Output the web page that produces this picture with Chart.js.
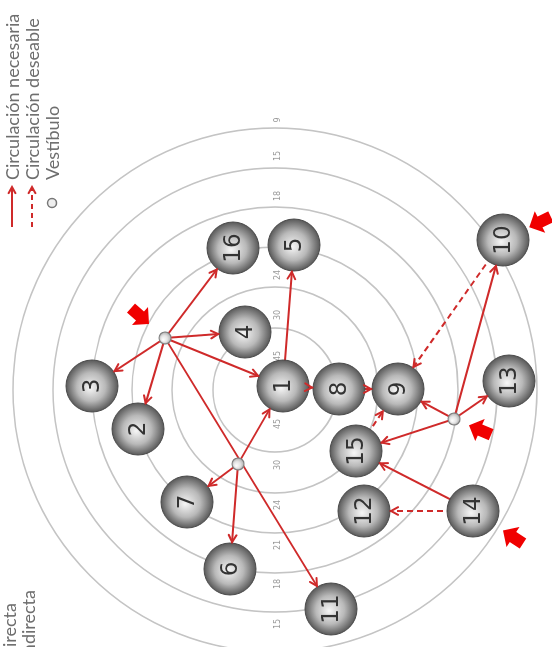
<!DOCTYPE html>
<html><head><meta charset="utf-8">
<script src="https://cdn.jsdelivr.net/npm/chart.js@4/dist/chart.umd.min.js"></script>
<style>
html,body{margin:0;padding:0;background:#fff;overflow:hidden;width:552px;height:647px}
#wrap{position:absolute;left:0;top:0;width:647px;height:552px;transform-origin:0 0;transform:translateY(647px) rotate(-90deg)}
</style></head><body>
<div id="wrap"><canvas id="c" width="647" height="552"></canvas></div>
<script>
// ---- data (ring centre = 0,0) ----
const nodeNames = ['1','2','3','4','5','6','7','8','9','10','11','12','13','14','15','16'];
const nodeX     = [  4, -39,   4,  58, 145,-179,-112,   1,   1, 150,-219,-121,   9,-121, -61, 142];
const nodeY     = [ -8, 137, 183,  30, -19,  45,  88, -64,-123,-228, -56, -89,-234,-198, -81,  42];
const vestibuleNames = ['V1','V2','V3'];
const vestibuleX = [ 52, -74, -29];
const vestibuleY = [110,  37,-179];
const ringRadii  = [62, 103, 143, 183, 222, 262];
const zoneLabels = ['45','30','24','21','18','15','9'];
const solidFrom = ['V1','V1','V1','V1','V1','V1','V2','V2','V2','1','1','8','V3','V3','V3','V3','14'];
const solidTo   = ['16','4', '3', '2', '1', '11','1', '7', '6', '5','8','9','9', '13','15','10','15'];
const dashedFrom = ['10','15','14'];
const dashedTo   = ['9', '9', '12'];
const entranceTarget = ['V1','V3','14','10'];
const entranceX = [ 74, -40,-147, 168];
const entranceY = [135,-205,-238,-265];
const legendLabels = ['Circulación necesaria','Circulación deseable','Vestíbulo'];
const relationLabels = ['Relación directa','Relación indirecta'];

const RED = '#cf2a2a';
const NODE_R = 26, VEST_R = 6;

function pos(name){
  let i = nodeNames.indexOf(name);
  if (i >= 0) return {x: nodeX[i], y: nodeY[i], r: NODE_R};
  i = vestibuleNames.indexOf(name);
  return {x: vestibuleX[i], y: vestibuleY[i], r: VEST_R};
}

const edges = [];
solidFrom.forEach((f,i)=>edges.push({from:f,to:solidTo[i],dashed:false}));
dashedFrom.forEach((f,i)=>edges.push({from:f,to:dashedTo[i],dashed:true}));

const datasets = edges.map(e=>({
  type:'scatter', showLine:true, data:[pos(e.from),pos(e.to)].map(p=>({x:p.x,y:p.y})),
  borderColor:RED, borderWidth:2, borderDash:e.dashed?[6,4]:[], pointRadius:0, order:5
}));

function sphere(ctx, light, mid, dark){
  if (ctx.type !== 'data' || !ctx.raw) return mid;
  const c = ctx.chart; const d = ctx.raw;
  const px = c.scales.x.getPixelForValue(d.x), py = c.scales.y.getPixelForValue(d.y);
  if (!isFinite(px) || !isFinite(py)) return mid;
  const g = c.ctx.createRadialGradient(px-2, py-2, 0, px, py, d.r);
  g.addColorStop(0, light); g.addColorStop(0.55, mid); g.addColorStop(1, dark);
  return g;
}

datasets.push({
  type:'bubble', label:'nodes',
  data: nodeNames.map((n,i)=>({x:nodeX[i], y:nodeY[i], r:NODE_R})),
  backgroundColor: ctx=>sphere(ctx,'#f6f6f6','#b9b9b9','#595959'),
  borderColor:'#4a4a4a', borderWidth:1, order:2, clip:false
});
datasets.push({
  type:'bubble', label:'vest',
  data: vestibuleNames.map((n,i)=>({x:vestibuleX[i], y:vestibuleY[i], r:VEST_R})),
  backgroundColor: ctx=>sphere(ctx,'#ffffff','#e4e4e4','#b0b0b0'),
  borderColor:'#808080', borderWidth:1.2, order:1, clip:false
});

function arrowHead(c, x, y, ang, len, color){
  c.save(); c.strokeStyle=color; c.lineWidth=2; c.lineCap='round';
  c.beginPath();
  c.moveTo(x - len*Math.cos(ang-0.5), y - len*Math.sin(ang-0.5));
  c.lineTo(x, y);
  c.lineTo(x - len*Math.cos(ang+0.5), y - len*Math.sin(ang+0.5));
  c.stroke(); c.restore();
}

const diagram = {
  id:'diagram',
  beforeDatasetsDraw(chart){
    const c = chart.ctx, sx = chart.scales.x, sy = chart.scales.y;
    const cx = sx.getPixelForValue(0), cy = sy.getPixelForValue(0);
    c.save();
    c.strokeStyle = '#c4c4c4'; c.lineWidth = 1.6;
    ringRadii.forEach(r=>{
      const pr = sx.getPixelForValue(r) - cx;
      c.beginPath(); c.arc(cx, cy, pr, 0, Math.PI*2); c.stroke();
    });
    c.fillStyle = '#9a9a9a'; c.font = '8px "DejaVu Sans"';
    c.textAlign='center'; c.textBaseline='middle';
    zoneLabels.forEach((t,i)=>{
      const r = i < ringRadii.length ? ringRadii[i]-28 : ringRadii[ringRadii.length-1]+8;
      [r,-r].forEach(v=>{
        c.fillText(t, sx.getPixelForValue(v), sy.getPixelForValue(-3));
      });
    });
    c.restore();
  },
  afterDatasetsDraw(chart){
    const c = chart.ctx, sx = chart.scales.x, sy = chart.scales.y;
    edges.forEach(e=>{
      const a = pos(e.from), b = pos(e.to);
      const ax = sx.getPixelForValue(a.x), ay = sy.getPixelForValue(a.y);
      const bx = sx.getPixelForValue(b.x), by = sy.getPixelForValue(b.y);
      const ang = Math.atan2(by-ay, bx-ax);
      const tx = bx - (b.r+1)*Math.cos(ang), ty = by - (b.r+1)*Math.sin(ang);
      arrowHead(c, tx, ty, ang, 8, RED);
    });
    c.save();
    c.fillStyle='#333'; c.font='23px "DejaVu Sans"'; c.textAlign='center'; c.textBaseline='middle';
    nodeNames.forEach((n,i)=>{
      c.fillText(n, sx.getPixelForValue(nodeX[i]), sy.getPixelForValue(nodeY[i])+1);
    });
    c.restore();
    c.save(); c.fillStyle='#f00000';
    entranceTarget.forEach((t,i)=>{
      const p = pos(t);
      const ex = sx.getPixelForValue(entranceX[i]), ey = sy.getPixelForValue(entranceY[i]);
      const tx = sx.getPixelForValue(p.x), ty = sy.getPixelForValue(p.y);
      const ang = Math.atan2(ty-ey, tx-ex);
      c.save(); c.translate(ex, ey); c.rotate(ang);
      c.beginPath();
      c.moveTo(12,0); c.lineTo(0,-12); c.lineTo(0,-6); c.lineTo(-12,-6);
      c.lineTo(-12,6); c.lineTo(0,6); c.lineTo(0,12); c.closePath(); c.fill();
      c.restore();
    });
    c.restore();
    c.save();
    const rows = [12,32,52];
    c.strokeStyle = RED; c.lineWidth = 2;
    [0,1].forEach(k=>{
      c.setLineDash(k ? [5,4] : []);
      c.beginPath(); c.moveTo(420, rows[k]); c.lineTo(459, rows[k]); c.stroke();
      c.setLineDash([]);
      arrowHead(c, 460, rows[k], 0, 7, RED);
    });
    c.beginPath(); c.arc(444, rows[2], 4.5, 0, Math.PI*2);
    c.fillStyle='#eee'; c.fill(); c.strokeStyle='#777'; c.lineWidth=1.5; c.stroke();
    c.fillStyle='#6e6e6e'; c.font='18px Lato'; c.textAlign='left'; c.textBaseline='middle';
    legendLabels.forEach((t,k)=>c.fillText(t, 467, rows[k]+1));
    c.textAlign='right';
    c.fillText(relationLabels[0], 44, 10);
    c.fillText(relationLabels[1], 57, 29);
    c.restore();
  }
};

new Chart(document.getElementById('c'), {
  data:{datasets},
  options:{
    responsive:false, animation:false, events:[],
    layout:{padding:0, autoPadding:false},
    plugins:{legend:{display:false}, tooltip:{enabled:false}},
    scales:{
      x:{type:'linear', min:-257, max:390, display:false},
      y:{type:'linear', min:-277, max:275, display:false}
    }
  },
  plugins:[diagram]
});
</script>
</body></html>
